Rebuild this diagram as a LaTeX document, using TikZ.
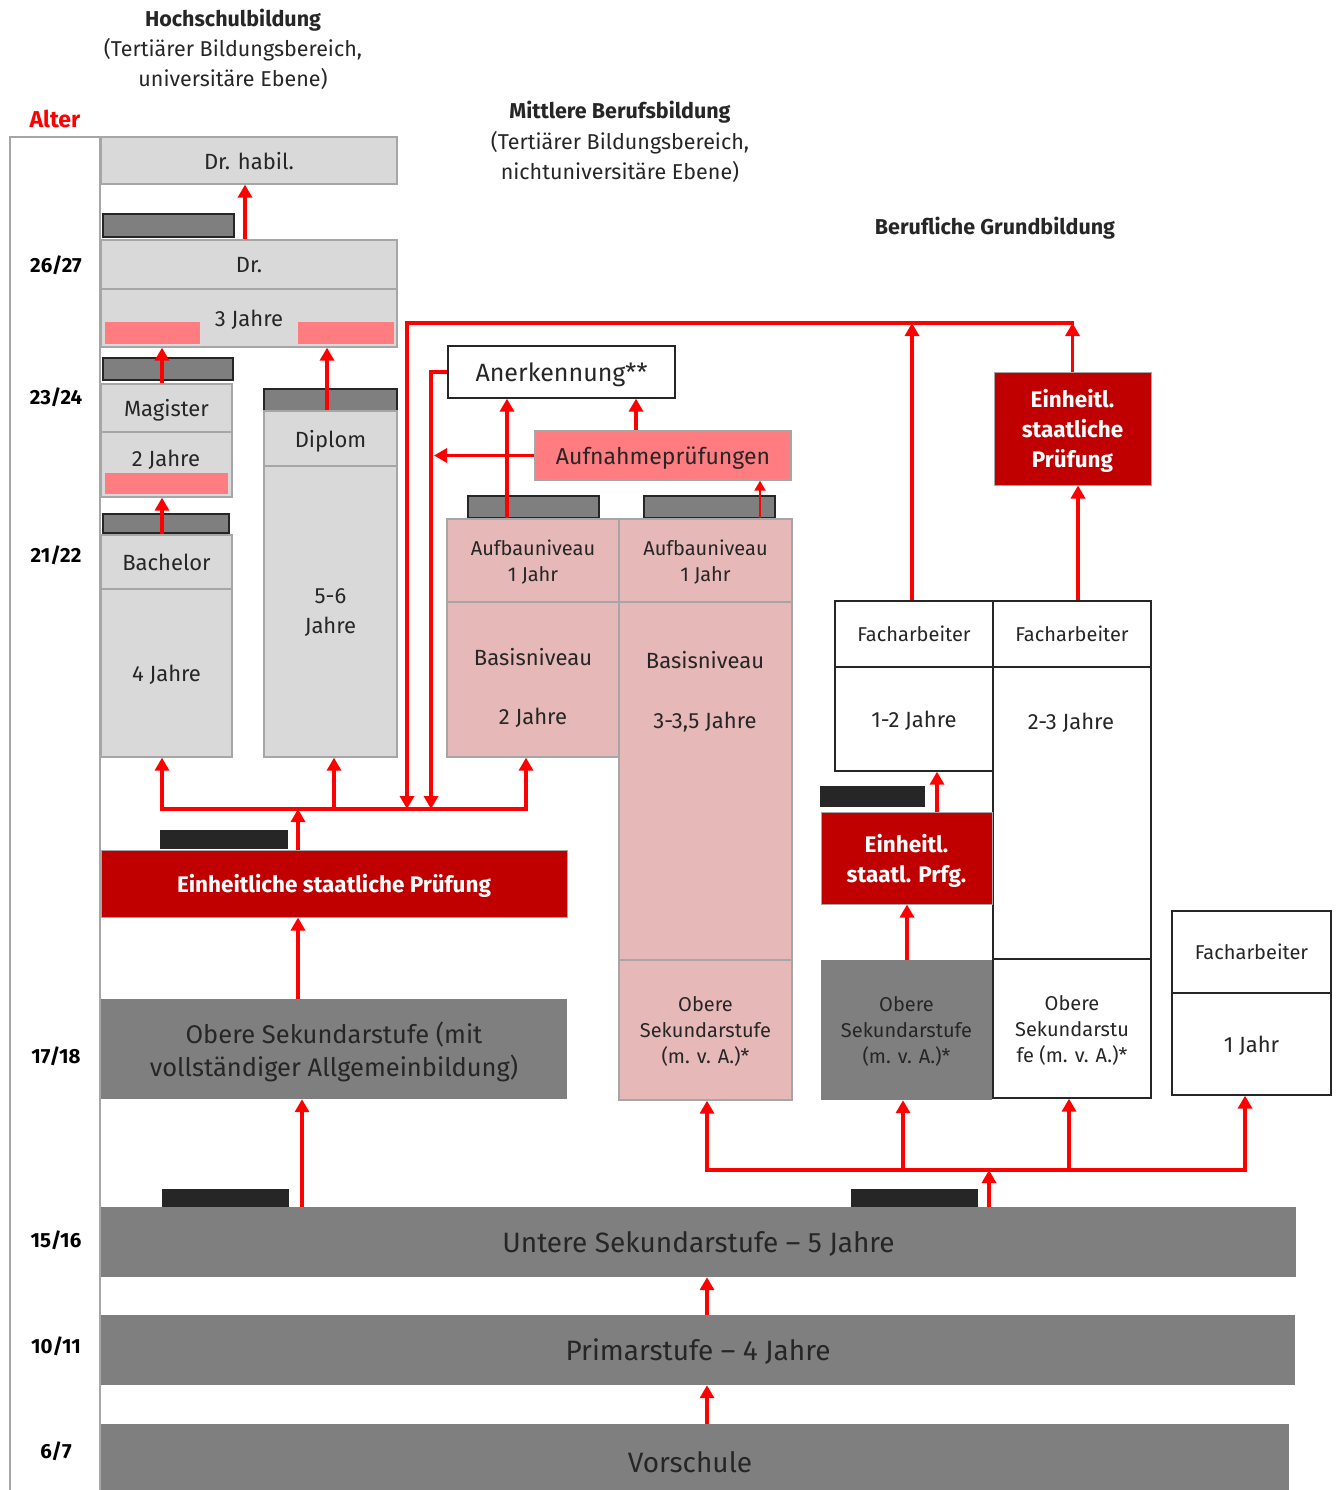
\documentclass[tikz,border=0pt]{standalone}
\usepackage{fontspec}
\setmainfont{Fira Sans}
\usetikzlibrary{arrows.meta}
\definecolor{lgray}{HTML}{D9D9D9}
\definecolor{bgray}{HTML}{A6A6A6}
\definecolor{mgray}{HTML}{7F7F7F}
\definecolor{dbar}{HTML}{262626}
\definecolor{pinkb}{HTML}{E6B8B7}
\definecolor{salmon}{HTML}{FF7C80}
\definecolor{exred}{HTML}{C00000}
\definecolor{arrred}{HTML}{FF0000}
\definecolor{txt}{HTML}{262626}
\newcommand\mybox[7]{%
  \pgfmathsetmacro\myw{#5-#3}\pgfmathsetmacro\myh{#6-#4}%
  \node[#1, minimum width=\myw pt, minimum height=\myh pt] (#2) at ({(#3+#5)/2},{(#4+#6)/2}) {#7};}
\begin{document}
\begin{tikzpicture}[x=1pt,y=-1pt,
  every node/.style={inner sep=1pt, align=center, text=txt, text depth=0pt},
  lg/.style={fill=lgray, draw=bgray, line width=1.3pt, font=\fontsize{22}{30}\selectfont},
  gbar/.style={fill=mgray, draw=dbar, line width=1.5pt},
  kbar/.style={fill=dbar, draw=dbar, line width=1pt},
  salm/.style={fill=salmon, draw=none},
  salmb/.style={fill=salmon, draw=bgray, line width=1.3pt, font=\fontsize{23}{27}\selectfont},
  pk/.style={fill=pinkb, draw=bgray, line width=1.3pt, font=\fontsize{20}{26}\selectfont},
  pktxt/.style={font=\fontsize{22}{26}\selectfont},
  wb/.style={fill=white, draw=dbar, line width=1.3pt, font=\fontsize{20}{26}\selectfont},
  wtxt/.style={font=\fontsize{22}{26}\selectfont},
  exb/.style={fill=exred, draw=bgray, line width=1pt, text=white, font=\fontsize{22.5}{30}\selectfont\bfseries},
  band/.style={fill=mgray, draw=none, font=\fontsize{28}{33}\selectfont},
  gb/.style={fill=mgray, draw=none, font=\fontsize{20}{26}\selectfont},
  hdr/.style={font=\fontsize{21.5}{30}\selectfont},
  age/.style={font=\fontsize{20.5}{24}\selectfont\bfseries, text=black},
  frm/.style={draw=bgray, fill=none, line width=1.3pt},
  arr/.style={draw=arrred, line width=3.6pt, -{Triangle[length=13pt,width=14pt]}},
  arrthin/.style={draw=arrred, line width=2pt, -{Triangle[length=10pt,width=11pt]}},
  rline/.style={draw=arrred, line width=3.6pt, line cap=rect},
]
\useasboundingbox (0,0) rectangle (1335,1490);

% headers
\node[hdr] (h1) at (233,18) {\bfseries Hochschulbildung};
\node[hdr] (h1b) at (233,62) {(Tertiärer Bildungsbereich,\\universitäre Ebene)};
\node[hdr] (h2) at (620,110) {\bfseries Mittlere Berufsbildung};
\node[hdr] (h2b) at (620,155) {(Tertiärer Bildungsbereich,\\nichtuniversitäre Ebene)};
\node[hdr] (h3) at (995,226) {\bfseries Berufliche Grundbildung};

% age column
\node[font=\fontsize{23}{27}\selectfont\bfseries, text=arrred] (alter) at (55,119) {Alter};
\mybox{frm}{frame}{10}{137}{100}{1510}{}
\node[age] (a1) at (56,264) {26/27};
\node[age] (a2) at (56,396) {23/24};
\node[age] (a3) at (56,554) {21/22};
\node[age] (a4) at (56,1055) {17/18};
\node[age] (a5) at (56,1239) {15/16};
\node[age] (a6) at (56,1345) {10/11};
\node[age] (a7) at (56,1450) {6/7};

% Hochschulbildung
\mybox{lg}{habil}{101}{137}{397}{184}{Dr. habil.}
\mybox{gbar}{bar1}{103}{214}{234}{237}{}
\mybox{lg}{dr}{101}{240}{397}{289}{Dr.}
\mybox{lg}{dr3}{101}{289}{397}{347}{3 Jahre}
\mybox{salm}{s1}{105}{322}{200}{344}{}
\mybox{salm}{s2}{298}{322}{394}{344}{}
\mybox{gbar}{bar2}{103}{358}{233}{380}{}
\mybox{lg}{mag}{101}{384}{232}{432}{Magister}
\mybox{lg}{mag2}{101}{432}{232}{497}{}
\node[lg, fill=none, draw=none] (mag2t) at (166,458) {2 Jahre};
\mybox{salm}{s3}{105}{473}{228}{494}{}
\mybox{gbar}{bar3}{103}{514}{229}{533}{}
\mybox{lg}{bach}{101}{535}{232}{589}{Bachelor}
\mybox{lg}{bach4}{101}{589}{232}{757}{4 Jahre}
\mybox{gbar}{bar4}{264}{389}{397}{411}{}
\mybox{lg}{dipl}{264}{411}{397}{466}{Diplom}
\mybox{lg}{dipl5}{264}{466}{397}{757}{5-6\\Jahre}

% Mittlere Berufsbildung
\mybox{wb}{anerk}{448}{346}{675}{398}{\fontsize{25}{29}\selectfont Anerkennung**}
\mybox{salmb}{aufn}{535}{431}{791}{480}{Aufnahmeprüfungen}
\mybox{gbar}{bar5}{468}{496}{599}{518}{}
\mybox{gbar}{bar6}{644}{496}{775}{518}{}
\mybox{pk}{auf1}{447}{519}{619}{602}{Aufbauniveau\\1 Jahr}
\mybox{pk}{bas1}{447}{602}{619}{757}{}
\node[pktxt] (bas1a) at (533,657) {Basisniveau};
\node[pktxt] (bas1b) at (533,716) {2 Jahre};
\mybox{pk}{auf2}{619}{519}{792}{602}{Aufbauniveau\\1 Jahr}
\mybox{pk}{bas2}{619}{602}{792}{960}{}
\node[pktxt] (bas2a) at (705,660) {Basisniveau};
\node[pktxt] (bas2b) at (705,720) {3-3,5 Jahre};
\mybox{pk}{obs1}{619}{960}{792}{1100}{Obere\\Sekundarstufe\\(m. v. A.)*}

% Berufliche Grundbildung
\mybox{wb}{fa1}{835}{601}{993}{667}{Facharbeiter}
\mybox{wb}{fa1j}{835}{667}{993}{771}{\fontsize{22}{26}\selectfont 1-2 Jahre}
\mybox{wb}{fa2}{993}{601}{1151}{667}{Facharbeiter}
\mybox{wb}{fa2j}{993}{667}{1151}{959}{}
\node[wtxt] (fa2t) at (1071,721) {2-3 Jahre};
\mybox{wb}{obs3}{993}{959}{1151}{1098}{Obere\\Sekundarstu\\fe (m. v. A.)*}
\mybox{exb}{esp2}{994}{372}{1151}{485}{Einheitl.\\staatliche\\Prüfung}
\mybox{kbar}{bar7}{820}{786}{924}{806}{}
\mybox{exb}{esp3}{821}{812}{992}{904}{Einheitl.\\staatl. Prfg.}
\mybox{gb}{obs2}{821}{960}{992}{1100}{Obere\\Sekundarstufe\\(m. v. A.)*}
\mybox{wb}{fa3}{1172}{911}{1331}{993}{Facharbeiter}
\mybox{wb}{fa3j}{1172}{993}{1331}{1095}{\fontsize{22}{26}\selectfont 1 Jahr}

% lower left
\mybox{kbar}{bar8}{160}{830}{287}{848}{}
\mybox{exb}{esp1}{101}{850}{567}{917}{Einheitliche staatliche Prüfung}
\mybox{band}{obs0}{101}{999}{567}{1099}{\fontsize{25.5}{32}\selectfont Obere Sekundarstufe (mit\\\fontsize{25.5}{32}\selectfont vollständiger Allgemeinbildung)}
\mybox{kbar}{bar9}{162}{1189}{288}{1206}{}
\mybox{kbar}{bar10}{851}{1189}{977}{1206}{}
\mybox{band}{unt}{101}{1207}{1296}{1277}{Untere Sekundarstufe – 5 Jahre}
\mybox{band}{prim}{101}{1315}{1295}{1385}{Primarstufe – 4 Jahre}
\mybox{band}{vor}{101}{1424}{1289}{1510}{}
\node[band, fill=none] (vort) at (690,1462) {Vorschule};

% hub coordinates
\coordinate (topL) at (407,323);
\coordinate (hubL) at (162,809);
\coordinate (hubR) at (526,809);
\coordinate (hub2L) at (707,1170);
\coordinate (hub2R) at (1245,1170);

% arrows Hochschule
\draw[arr] (dr.north -| 245,0) -- (habil.south -| 245,0);
\draw[arr] (mag.north -| 162,0) -- (dr3.south -| 162,0);
\draw[arr] (dipl.north -| 327,0) -- (dr3.south -| 327,0);
\draw[arr] (bach.north -| 162,0) -- (mag2.south -| 162,0);

% arrows Mittlere
\draw[arr] (aufn.north -| 636,0) -- (anerk.south -| 636,0);
\draw[arr] (auf1.north -| 507,0) -- (anerk.south -| 507,0);
\draw[arrthin] (auf2.north -| 760,0) -- (aufn.south -| 760,0);
\draw[arr] (aufn.west) -- (aufn.west -| 434,0);
\draw[arr] (anerk.west) -- (anerk.west -| 431,0) -- (hubL -| 431,0);

% upper loop
\draw[arr] (fa1.north -| 912,0) -- (topL -| 912,0);
\draw[arr] (esp2.north) -- (topL -| esp2.north);
\draw[rline] (topL -| esp2.north) -- (topL);
\draw[arr] (topL) -- (hubL -| topL);
\draw[arr] (fa2.north -| 1078,0) -- (esp2.south -| 1078,0);
\draw[arr] (esp3.north -| 937,0) -- (fa1j.south -| 937,0);
\draw[arr] (obs2.north -| 907,0) -- (esp3.south -| 907,0);

% hub 1
\draw[rline] (hubL) -- (hubR);
\draw[arr] (esp1.north -| 298,0) -- (hubL -| 298,0);
\draw[arr] (hubL) -- (bach4.south -| hubL);
\draw[arr] (hubL -| 334,0) -- (dipl5.south -| 334,0);
\draw[arr] (hubR) -- (bas1.south -| hubR);
\draw[arr] (obs0.north -| 298,0) -- (esp1.south -| 298,0);
\draw[arr] (unt.north -| 302,0) -- (obs0.south -| 302,0);

% hub 2
\draw[rline] (hub2L) -- (hub2R);
\draw[arr] (unt.north -| 989,0) -- (hub2L -| 989,0);
\draw[arr] (hub2L) -- (obs1.south -| hub2L);
\draw[arr] (hub2L -| 903,0) -- (obs2.south -| 903,0);
\draw[arr] (hub2L -| 1069,0) -- (obs3.south -| 1069,0);
\draw[arr] (hub2R) -- (fa3j.south -| hub2R);

% bottom
\draw[arr] (prim.north -| 707,0) -- (unt.south -| 707,0);
\draw[arr] (vor.north -| 707,0) -- (prim.south -| 707,0);
\end{tikzpicture}
\end{document}
